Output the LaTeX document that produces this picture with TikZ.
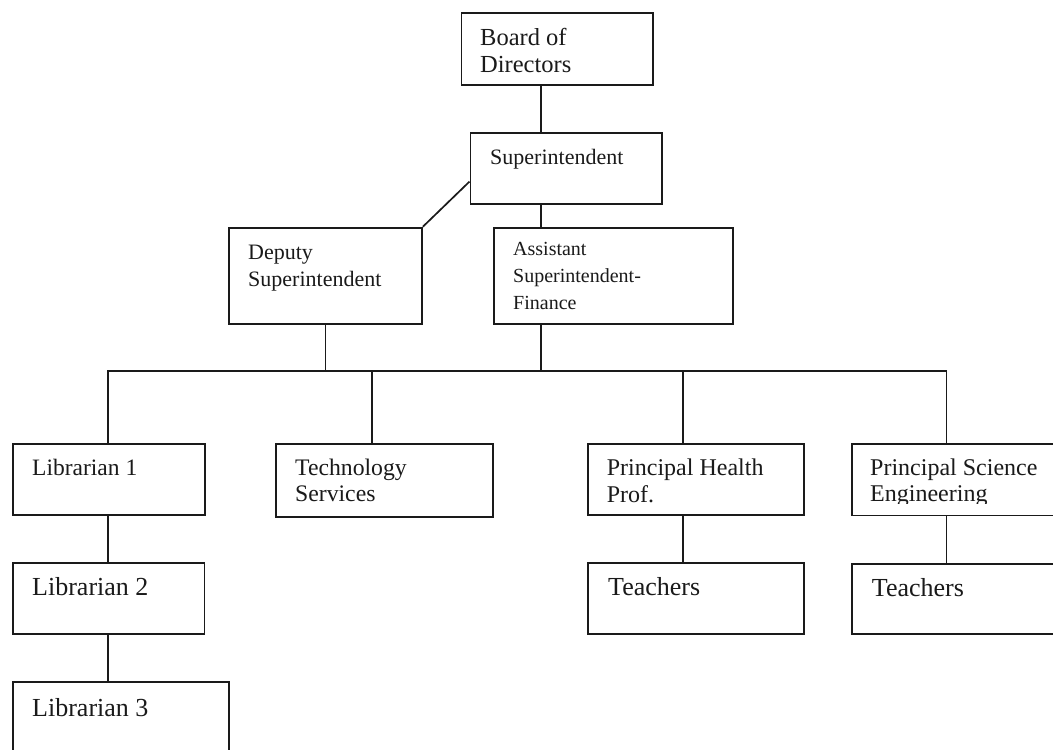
\documentclass[tikz,border=0pt]{standalone}
\usepackage{fontspec}
\setmainfont{Liberation Serif}
\usetikzlibrary{calc}

\tikzset{
  orgbox/.style={draw=ink, line width=1.9pt, rectangle, inner sep=0pt, anchor=north west},
  link/.style={draw=ink, line width=1.7pt},
  % multi-line labels are placed by the baseline of their last line
  lbl/.style={anchor=base west, inner sep=0pt, align=left, text=ink},
}
\definecolor{ink}{HTML}{1A1A1A}
\newcommand{\fs}[2]{\fontsize{#1}{#2}\selectfont}

\begin{document}
\begin{tikzpicture}[x=1pt, y=-1pt]
  \fill[white] (0,0) rectangle (1053,750);
  \clip (0,0) rectangle (1053,750);

  % boxes
  \node[orgbox, minimum width=191.5pt, minimum height=72pt]  (board)  at (460.5,12)  {};
  \node[orgbox, minimum width=191.5pt, minimum height=71pt]  (super)  at (469.5,132) {};
  \node[orgbox, minimum width=193pt,   minimum height=96pt]  (deputy) at (228,226.7) {};
  \node[orgbox, minimum width=239pt,   minimum height=96pt]  (asst)   at (492.7,226.7) {};
  \node[orgbox, minimum width=192pt,   minimum height=71.3pt] (lib1)  at (12,442.7) {};
  \node[orgbox, minimum width=191.5pt, minimum height=71pt]  (lib2)   at (12,562)    {};
  \node[orgbox, minimum width=216pt,   minimum height=80pt]  (lib3)   at (12,680.7)  {};
  \node[orgbox, minimum width=217pt,   minimum height=73.3pt] (tech)  at (275,442.7) {};
  \node[orgbox, minimum width=216.3pt, minimum height=71.6pt] (ph)    at (586.7,442.7) {};
  \node[orgbox, minimum width=216.3pt, minimum height=71pt]  (phT)    at (586.7,562.3) {};
  \node[orgbox, minimum width=230pt,   minimum height=71.5pt] (ps)    at (851,443)   {};
  \node[orgbox, minimum width=230pt,   minimum height=70.6pt] (psT)   at (851,562.7) {};

  % labels
  \node[lbl, font=\fs{24.5}{27.7}] (board-t)  at (480,72.7)  {Board of\\Directors};
  \node[lbl, font=\fs{22}{27}]     (super-t)  at (490,164)   {Superintendent};
  \node[lbl, font=\fs{22}{27.7}]   (deputy-t) at (248,286.7) {Deputy\\Superintendent};
  \node[lbl, font=\fs{20}{27}]     (asst-t)   at (513,309)   {Assistant\\Superintendent-\\Finance};
  \node[lbl, font=\fs{23.5}{27}]   (lib1-t)   at (32,475)    {Librarian 1};
  \node[lbl, font=\fs{26}{30}]     (lib2-t)   at (32,595.7)  {Librarian 2};
  \node[lbl, font=\fs{26}{30}]     (lib3-t)   at (32,716.7)  {Librarian 3};
  \node[lbl, font=\fs{23.7}{26.7}] (tech-t)   at (295,501.7) {Technology\\Services};
  \node[lbl, font=\fs{24}{27.7}]   (ph-t)     at (606.7,502.7) {Principal Health\\Prof.};
  \node[lbl, font=\fs{26}{30}]     (phT-t)    at (608,595.7) {Teachers};
  \begin{scope}
    % the second line is cut off just below its baseline
    \clip (851,443) rectangle (1053,503);
    \node[lbl, font=\fs{24}{26.7}] (ps-t)     at (870,501.7) {Principal Science\\Engineering};
  \end{scope}
  \node[lbl, font=\fs{26}{30}]     (psT-t)    at (871.7,596) {Teachers};

  % reference positions for connector columns and the bus
  \coordinate (xa)  at (541.2,0);
  \coordinate (xl)  at (107.8,0);
  \coordinate (xt)  at (371.7,0);
  \coordinate (xh)  at (683,0);
  \coordinate (xs)  at (946.6,0);
  \coordinate (bus) at (0,370.8);
  \coordinate (kink) at ($(super.north west)!0.68!(super.south west)$);

  % connectors
  \draw[link] (board.south -| xa) -- (super.north -| xa);
  \draw[link] (kink) -- (deputy.north east);
  \draw[link] (super.south -| xa) -- (asst.north -| xa);
  \draw[link] (deputy.south) -- (deputy.south |- bus);
  \draw[link] (asst.south -| xa) -- (xa |- bus);
  \draw[link] (lib1.north -| xl) -- (xl |- bus) -- (xs |- bus) -- (ps.north -| xs);
  \draw[link] (xt |- bus) -- (tech.north -| xt);
  \draw[link] (xh |- bus) -- (ph.north -| xh);
  \draw[link] (lib1.south -| xl) -- (lib2.north -| xl);
  \draw[link] (lib2.south -| xl) -- (lib3.north -| xl);
  \draw[link] (ph.south -| xh) -- (phT.north -| xh);
  \draw[link] (ps.south -| xs) -- (psT.north -| xs);
\end{tikzpicture}
\end{document}
